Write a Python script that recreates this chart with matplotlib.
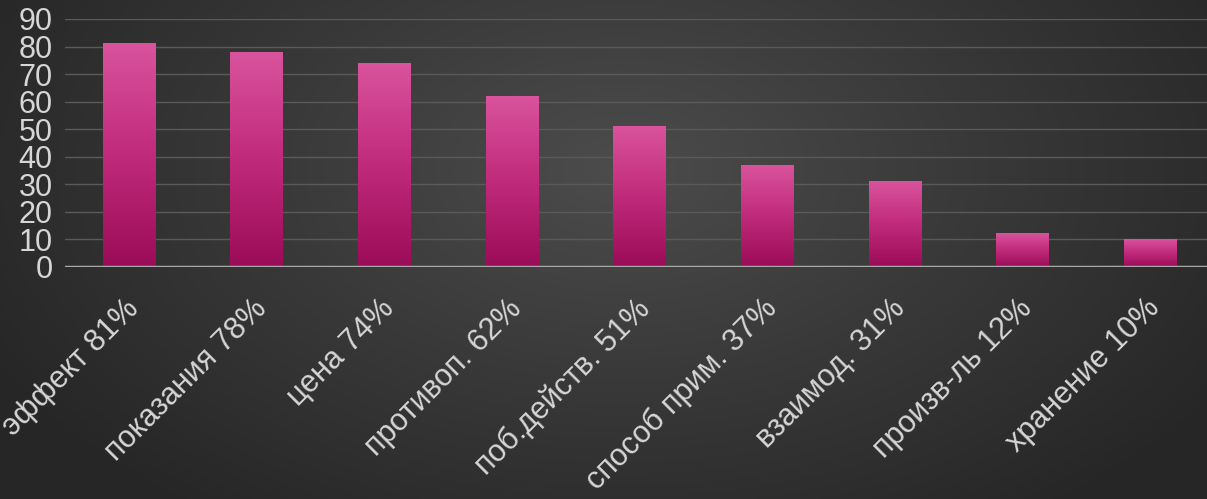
import numpy as np
import matplotlib
matplotlib.use("Agg")
import matplotlib.pyplot as plt
from matplotlib.colors import LinearSegmentedColormap
from matplotlib.transforms import ScaledTranslation

plt.rcParams['font.family'] = ['Liberation Sans', 'DejaVu Sans']

categories = ["эффект 81%", "показания 78%", "цена 74%", "противоп. 62%",
              "поб.действ. 51%", "способ прим. 37%", "взаимод. 31%",
              "произв-ль 12%", "хранение 10%"]
values = [81, 78, 74, 62, 51, 37, 31, 12, 10]
yticks = list(range(0, 100, 10))

W, H = 1207, 499
fig = plt.figure(figsize=(W / 100, H / 100), dpi=100)

# dark radial background, lighter near the top centre
bg = fig.add_axes([0, 0, 1, 1])
yy, xx = np.mgrid[0:H, 0:W]
r = np.sqrt(((xx - 620) / 700.0) ** 2 + ((yy - 170) / 420.0) ** 2)
r = np.clip(r, 0, 1)
bg_cmap = LinearSegmentedColormap.from_list("bg", ["#4c4c4c", "#393939", "#272727"])
bg.imshow(r, cmap=bg_cmap, aspect="auto", extent=[0, 1, 0, 1], origin="upper")
bg.set_axis_off()

left = 65 / W
bottom = (H - 267) / H
top = (H - 19) / H
right = 1214 / W
ax = fig.add_axes([left, bottom, right - left, top - bottom])
ax.set_facecolor("none")

x = np.arange(len(values))
bars = ax.bar(x, values, width=0.41, color="none", edgecolor="none", zorder=3)

# vertical pink gradient inside each bar
bar_cmap = LinearSegmentedColormap.from_list("bar", ["#9a0c58", "#c02a7a", "#d9539d"])
grad = np.linspace(0, 1, 256).reshape(-1, 1)
for b in bars:
    x0, w, h = b.get_x(), b.get_width(), b.get_height()
    ax.imshow(grad, cmap=bar_cmap, aspect="auto", origin="lower",
              extent=[x0, x0 + w, 0, h], zorder=3)

ax.set_xlim(-0.5, len(values) - 0.5)
ax.set_ylim(0, 90)

for v in yticks[1:]:
    ax.axhline(v, color="#5a5a5a", lw=1.0, zorder=1)
ax.axhline(0, color="#a8a8a8", lw=2.5, zorder=4)

for s in ax.spines.values():
    s.set_visible(False)

ax.set_yticks(yticks)
ax.set_yticklabels([str(t) for t in yticks])
ax.tick_params(axis="y", length=0, pad=9, labelsize=22, labelcolor="#d6d6d6")

ax.set_xticks(x)
ax.set_xticklabels(categories, rotation=45, ha="right", rotation_mode="anchor")
ax.tick_params(axis="x", length=0, pad=19, labelsize=22, labelcolor="#d6d6d6")
shift = ScaledTranslation(-5 / 100, 0, fig.dpi_scale_trans)
for lbl in ax.get_xticklabels():
    lbl.set_transform(lbl.get_transform() + shift)

fig.savefig("out.png", dpi=100)
